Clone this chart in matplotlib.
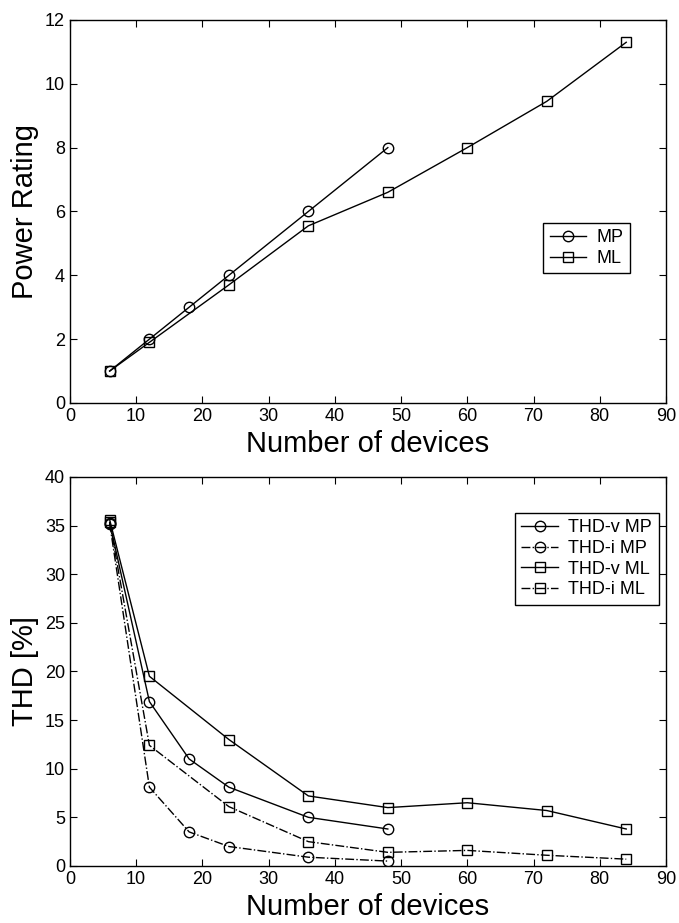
import matplotlib
matplotlib.use("Agg")
import matplotlib.pyplot as plt

plt.rcParams["font.family"] = ["Liberation Sans", "DejaVu Sans"]

# top panel: power rating
mp_x = [6, 12, 18, 24, 36, 48]
mp_power = [1, 2, 3, 4, 6, 8]
ml_x = [6, 12, 24, 36, 48, 60, 72, 84]
ml_power = [1, 1.9, 3.7, 5.55, 6.6, 8, 9.45, 11.3]

# bottom panel: THD
thdv_mp = [35.3, 16.9, 11, 8.1, 5, 3.8]
thdi_mp = [35.2, 8.1, 3.5, 2, 0.9, 0.5]
thdv_ml = [35.6, 19.5, 13, 7.2, 6, 6.5, 5.7, 3.8]
thdi_ml = [35.4, 12.4, 6.1, 2.5, 1.4, 1.6, 1.1, 0.7]

fig = plt.figure(figsize=(6.79, 9.23), dpi=100)
ax1 = fig.add_axes([0.103, 0.5634, 0.8778, 0.415])
ax2 = fig.add_axes([0.103, 0.0618, 0.8778, 0.4215])

mk = dict(color="black", lw=1.0, markersize=7.5, markerfacecolor="none", markeredgewidth=1.0)
leg = dict(fontsize=13, fancybox=False, edgecolor="black", framealpha=1,
           handlelength=2.0, labelspacing=0.2, borderpad=0.35, handletextpad=0.6)


def style(ax):
    ax.set_xlim(0, 90)
    ax.set_xticks(range(0, 91, 10))
    ax.tick_params(direction="in", top=True, right=True, labelsize=13, length=5)
    for s in ax.spines.values():
        s.set_linewidth(1.0)
    ax.set_xlabel("Number of devices", fontsize=21, labelpad=4)


ax1.plot(mp_x, mp_power, marker="o", label="MP", **mk)
ax1.plot(ml_x, ml_power, marker="s", label="ML", **mk)
ax1.set_ylim(0, 12)
ax1.set_yticks(range(0, 13, 2))
ax1.set_ylabel("Power Rating", fontsize=21)
style(ax1)
ax1.legend(loc="upper left", bbox_to_anchor=(0.794, 0.47), borderaxespad=0, **leg)

ax2.plot(mp_x, thdv_mp, marker="o", ls="-", label="THD-v MP", **mk)
ax2.plot(mp_x, thdi_mp, marker="o", ls="-.", label="THD-i MP", **mk)
ax2.plot(ml_x, thdv_ml, marker="s", ls="-", label="THD-v ML", **mk)
ax2.plot(ml_x, thdi_ml, marker="s", ls="-.", label="THD-i ML", **mk)
ax2.set_ylim(0, 40)
ax2.set_yticks(range(0, 41, 5))
ax2.set_ylabel("THD [%]", fontsize=21)
style(ax2)
ax2.legend(loc="upper left", bbox_to_anchor=(0.747, 0.907), borderaxespad=0, **leg)

fig.savefig("out.png", dpi=100)
